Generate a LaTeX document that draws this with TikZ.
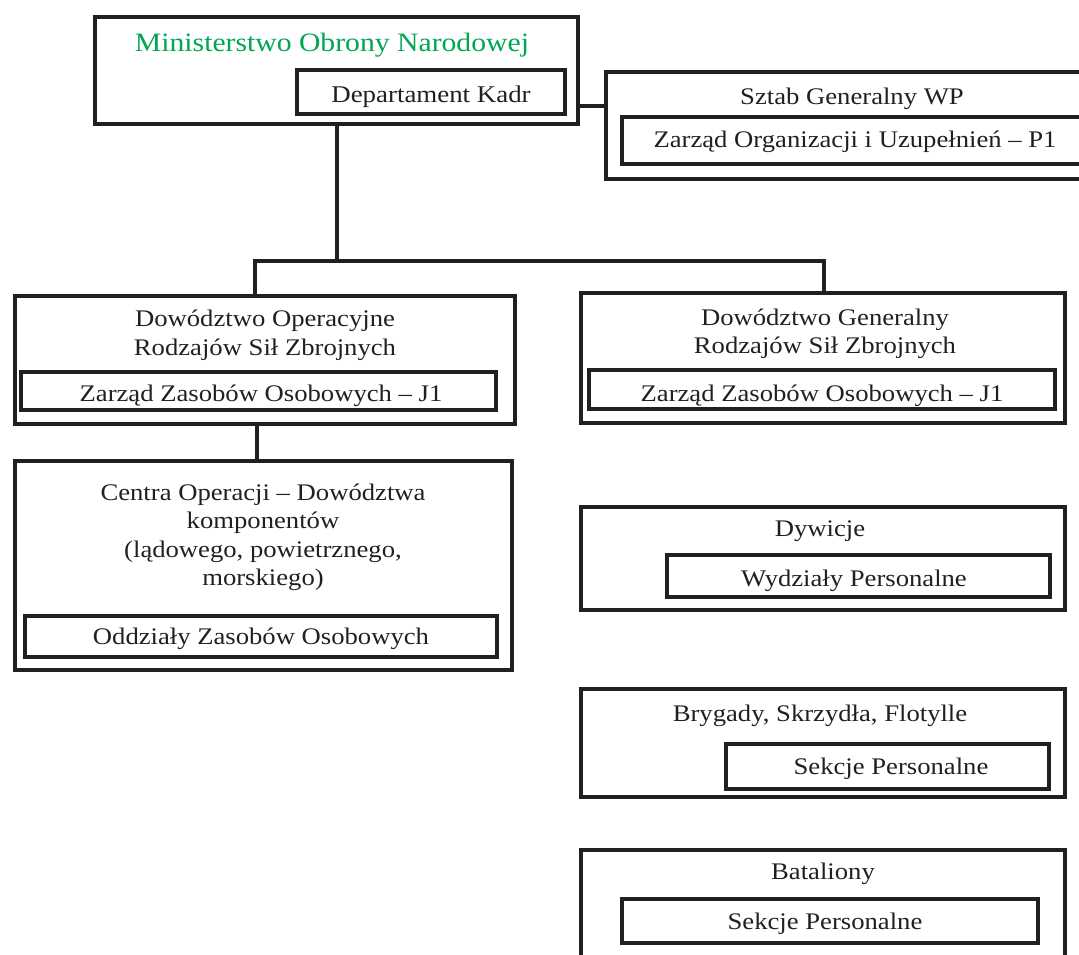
\documentclass[tikz,border=0pt]{standalone}
\usepackage{fontspec}
\setmainfont[FakeStretch=1.12]{Liberation Serif}
\definecolor{mongreen}{RGB}{0,166,81}
\definecolor{ink}{RGB}{35,31,32}
\newcommand{\bx}[6][]{%
  \pgfmathsetmacro{\bxcx}{(#3+#5)/2}%
  \pgfmathsetmacro{\bxcy}{(#4+#6)/2}%
  \pgfmathsetmacro{\bxw}{#5-#3}%
  \pgfmathsetmacro{\bxh}{#6-#4}%
  \node[box,minimum width=\bxw pt,minimum height=\bxh pt,#1] (#2) at (\bxcx,\bxcy) {};}
\tikzset{
  box/.style={draw=ink,line width=4.5pt,rectangle,inner sep=0pt,outer sep=0pt},
  conn/.style={draw=ink,line width=4.5pt},
  txt/.style={text=ink,inner sep=0pt,font=\fontsize{23.8}{28.5}\selectfont,align=center},
}
\begin{document}
\begin{tikzpicture}[x=1pt,y=-1pt]
\useasboundingbox (0,0) rectangle (1079,955);
\clip (0,0) rectangle (1079,955);
% boxes
\bx{mon}{95}{17}{578}{124}
\bx{dk}{297}{70}{565}{114}
\bx{sztab}{606}{72}{1110}{179}
\bx{p1}{622}{117}{1095}{164}
\bx{do}{15}{296}{515}{424}
\bx{doj}{21}{372}{496}{410}
\bx{co}{15}{461}{512}{670}
\bx{coz}{25}{616}{497}{657}
\bx{dg}{581}{293}{1065}{423}
\bx{dgj}{589}{370}{1055}{409}
\bx{dyw}{581}{507}{1065}{610}
\bx{wp}{667}{555}{1050}{597}
\bx{bry}{581}{689}{1065}{797}
\bx{sp1}{726}{744}{1049}{789}
\bx{bat}{581}{850}{1065}{1010}
\bx{sp2}{622}{899}{1038}{943}
% texts
\node[txt,anchor=base,text=mongreen,font=\fontsize{26.5}{30}\selectfont] (tmon) at (332,52) {Ministerstwo Obrony Narodowej};
\node[txt,anchor=base,font=\fontsize{24}{28}\selectfont] (tdk) at (431,103) {Departament Kadr};
\node[txt,anchor=base] (tsztab) at (852,105) {Sztab Generalny WP};
\node[txt,anchor=base] (tp1) at (855,148) {Zarząd Organizacji i Uzupełnień – P1};
\node[txt] (tdo) at (265,335.5) {Dowództwo Operacyjne\\Rodzajów Sił Zbrojnych};
\node[txt,anchor=base] (tdoj) at (261,401) {Zarząd Zasobów Osobowych – J1};
\node[txt] (tco) at (263,537.5) {Centra Operacji – Dowództwa\\komponentów\\(lądowego, powietrznego,\\morskiego)};
\node[txt,anchor=base] (tcoz) at (261,644) {Oddziały Zasobów Osobowych};
\node[txt] (tdg) at (825,334) {Dowództwo Generalny\\Rodzajów Sił Zbrojnych};
\node[txt,anchor=base] (tdgj) at (822,401) {Zarząd Zasobów Osobowych – J1};
\node[txt,anchor=base] (tdyw) at (820,536) {Dywicje};
\node[txt,anchor=base] (twp) at (854,586) {Wydziały Personalne};
\node[txt,anchor=base] (tbry) at (820,721) {Brygady, Skrzydła, Flotylle};
\node[txt,anchor=base] (tsp1) at (891,774) {Sekcje Personalne};
\node[txt,anchor=base] (tbat) at (823,879) {Bataliony};
\node[txt,anchor=base] (tsp2) at (825,929) {Sekcje Personalne};
% connectors
\coordinate (jn) at (337,261);
\draw[conn] (mon.east |- 0,106) -- (sztab.west |- 0,106);
\draw[conn] (mon.south -| jn) -- (jn);
\draw[conn] (do.north -| 255,0) -- (255,261) -- (824,261) -- (dg.north -| 824,0);
\draw[conn] (do.south -| 257,0) -- (co.north -| 257,0);
\end{tikzpicture}
\end{document}
